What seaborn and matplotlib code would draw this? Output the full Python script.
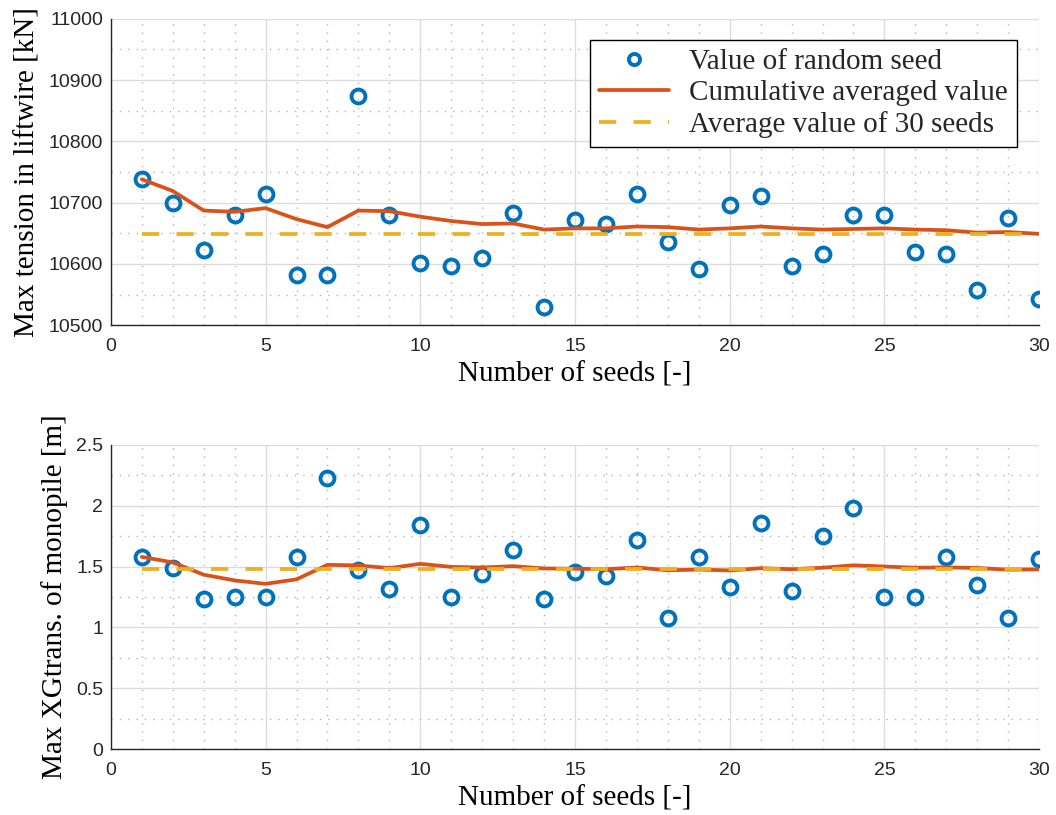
import matplotlib
matplotlib.use("Agg")
import matplotlib.pyplot as plt
from matplotlib.ticker import MultipleLocator, FormatStrFormatter
import numpy as np
import pandas as pd
import seaborn as sns

# ---- data -----------------------------------------------------------------
seeds = list(range(1, 31))

tension_seed = [10738, 10700, 10623, 10679, 10714, 10582, 10582, 10874, 10679, 10602,
                10596, 10609, 10683, 10529, 10672, 10665, 10714, 10636, 10592, 10696,
                10710, 10596, 10616, 10679, 10679, 10620, 10616, 10557, 10675, 10543]
tension_cumavg = [10738, 10719, 10687, 10685, 10691, 10673, 10660, 10687, 10686, 10677,
                  10670, 10665, 10666, 10656, 10658, 10658, 10661, 10660, 10656, 10658,
                  10661, 10658, 10656, 10657, 10658, 10656, 10655, 10651, 10652, 10649]
tension_avg30 = 10648.5

xg_seed = [1.579, 1.489, 1.230, 1.246, 1.246, 1.579, 2.226, 1.475, 1.314, 1.838,
           1.246, 1.437, 1.634, 1.230, 1.456, 1.420, 1.721, 1.074, 1.579, 1.333,
           1.861, 1.300, 1.754, 1.980, 1.246, 1.246, 1.579, 1.352, 1.074, 1.560]
xg_cumavg = [1.579, 1.534, 1.433, 1.386, 1.358, 1.395, 1.514, 1.509, 1.487, 1.522,
             1.497, 1.492, 1.503, 1.484, 1.482, 1.478, 1.492, 1.469, 1.475, 1.468,
             1.486, 1.478, 1.490, 1.510, 1.500, 1.490, 1.493, 1.488, 1.474, 1.477]
xg_avg30 = 1.477

legend_labels = ["Value of random seed", "Cumulative averaged value", "Average value of 30 seeds"]
x_label = "Number of seeds [-]"
y_labels = ["Max tension in liftwire [kN]", "Max XGtrans. of monopile [m]"]

# ---- style ----------------------------------------------------------------
BLUE = "#0072BD"
ORANGE = "#D95319"
YELLOW = "#EDB120"
AXIS_COLOR = "#262626"

sns.set_style("white")
plt.rcParams["font.family"] = ["Liberation Serif", "DejaVu Serif"]

fig = plt.figure(figsize=(10.56, 8.15), dpi=100)
ax_top = fig.add_axes([0.105, 0.601, 0.879, 0.376])
ax_bot = fig.add_axes([0.105, 0.0806, 0.879, 0.3738])


def draw_panel(ax, seed_vals, cum_vals, avg_val, ylim, ymajor, yminor, yfmt, ylabel, with_legend):
    df = pd.DataFrame({
        "seed": seeds,
        "value": seed_vals,
        "cumavg": cum_vals,
        "avg": [avg_val] * len(seeds),
    })
    sns.lineplot(data=df, x="seed", y="value", ax=ax, estimator=None, sort=False,
                 linestyle="none", marker="o", markersize=10, markerfacecolor="none",
                 markeredgecolor=BLUE, markeredgewidth=2.8, color=BLUE,
                 label=legend_labels[0], zorder=3)
    sns.lineplot(data=df, x="seed", y="cumavg", ax=ax, estimator=None, sort=False,
                 color=ORANGE, linewidth=2.7, label=legend_labels[1], zorder=4)
    sns.lineplot(data=df, x="seed", y="avg", ax=ax, estimator=None, sort=False,
                 color=YELLOW, linewidth=2.7, dashes=False, label=legend_labels[2], zorder=5)
    ax.lines[-1].set_dashes((4.6, 4.6))

    ax.set_xlim(0, 30)
    ax.set_ylim(*ylim)
    ax.xaxis.set_major_locator(MultipleLocator(5))
    ax.xaxis.set_minor_locator(MultipleLocator(1))
    ax.yaxis.set_major_locator(MultipleLocator(ymajor))
    ax.yaxis.set_minor_locator(MultipleLocator(yminor))
    ax.yaxis.set_major_formatter(FormatStrFormatter(yfmt))

    ax.grid(which="major", color="#DCDCDC", linewidth=1.0, linestyle="-", zorder=0)
    ax.grid(which="minor", color="#B4B4B4", linewidth=1.0, linestyle=(0, (1, 5)), zorder=0)
    ax.set_axisbelow(True)

    for side in ("top", "right"):
        ax.spines[side].set_visible(False)
    for side in ("left", "bottom"):
        ax.spines[side].set_color(AXIS_COLOR)
        ax.spines[side].set_linewidth(1.0)

    ax.tick_params(which="major", direction="in", length=7, width=1.0, color=AXIS_COLOR,
                   labelsize=14, labelcolor=AXIS_COLOR, labelfontfamily="Liberation Sans",
                   top=False, right=False)
    ax.tick_params(axis="x", which="major", pad=9)
    ax.tick_params(axis="y", which="major", pad=5.5)
    ax.tick_params(which="minor", length=0)

    ax.set_xlabel(x_label, fontsize=21, color="black", labelpad=5)
    ax.set_ylabel(ylabel, fontsize=21, color="black", labelpad=6)

    if with_legend:
        handles, labels = ax.get_legend_handles_labels()
        leg = ax.legend(handles, labels, loc="upper right", bbox_to_anchor=(0.976, 0.931),
                        borderaxespad=0, fontsize=21, frameon=True, fancybox=False,
                        edgecolor="black", framealpha=1, handlelength=2.4,
                        handletextpad=0.7, labelspacing=0.17, borderpad=0.3, numpoints=1,
                        markerscale=0.8)
        leg.get_frame().set_linewidth(1.0)
    else:
        leg = ax.get_legend()
        if leg is not None:
            leg.remove()


draw_panel(ax_top, tension_seed, tension_cumavg, tension_avg30, (10500, 11000), 100, 50,
           "%g", y_labels[0], True)
draw_panel(ax_bot, xg_seed, xg_cumavg, xg_avg30, (0, 2.5), 0.5, 0.25,
           "%g", y_labels[1], False)

fig.savefig("out.png", dpi=100)
